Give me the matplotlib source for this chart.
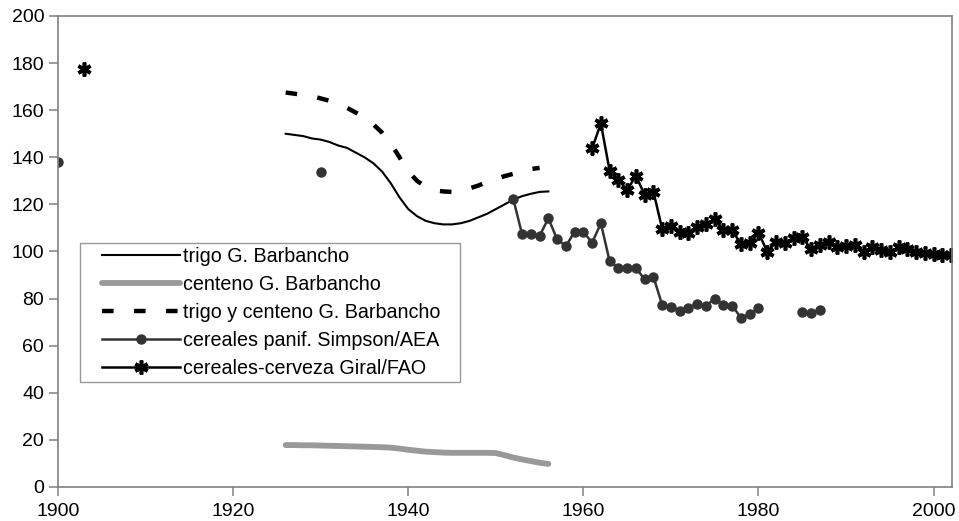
import numpy as np
import matplotlib
matplotlib.use("Agg")
import matplotlib.pyplot as plt
from matplotlib.legend_handler import HandlerLine2D

plt.rcParams['font.family'] = ['Liberation Sans', 'DejaVu Sans']

# trigo G. Barbancho
trigo_years = list(range(1926, 1957))
trigo_vals = [150, 149.5, 149, 148, 147.5, 146.5, 145, 144, 142, 140, 137.5, 134,
              129, 123, 118, 115, 113, 112, 111.5, 111.5, 112, 113, 114.5, 116,
              118, 120, 122, 123.5, 124.5, 125.3, 125.5]

# centeno G. Barbancho
centeno_years = list(range(1926, 1957))
centeno_vals = [17.8, 17.8, 17.7, 17.7, 17.6, 17.5, 17.4, 17.3, 17.2, 17.1, 17.0, 16.9,
                16.7, 16.3, 15.8, 15.4, 15.0, 14.8, 14.6, 14.5, 14.5, 14.5, 14.5, 14.5,
                14.4, 13.5, 12.5, 11.7, 11.0, 10.3, 9.8]

# trigo y centeno G. Barbancho
tyc_years = list(range(1926, 1956))
tyc_vals = [167.5, 167, 166.5, 166, 165, 164, 162.5, 161, 159, 157, 154, 150.5,
            146, 140, 134, 130, 127.5, 126, 125.5, 125.3, 125.8, 126.8, 128, 129.5,
            130.8, 132, 133, 134, 135, 135.5]

# cereales panif. Simpson/AEA
simpson_years = [1900, 1930] + list(range(1952, 1981)) + [1985, 1986, 1987]
simpson_vals = [137.9, 133.9,
                122.2, 107.3, 107.3, 106.6, 114.1, 105.2, 102.3, 108.4, 108.4, 103.7,
                112.0, 95.8, 92.9, 92.9, 92.9, 88.2, 89.3, 77.3, 76.3, 74.9, 76.2,
                77.7, 76.9, 80.0, 77.2, 76.9, 71.9, 73.3, 75.8,
                74.4, 73.8, 75.2]

# cereales-cerveza Giral/FAO
giral_years = [1903] + list(range(1961, 2003))
giral_vals = [177.4,
              143.8, 154.4, 134.2, 130.4, 126.1, 132.2, 124.0, 125.4, 109.6, 111.0,
              108.4, 107.7, 110.3, 111.7, 113.7, 109.1, 109.1, 103.0, 103.4, 108.0,
              99.9, 104.0, 103.6, 105.9, 106.3, 100.9, 102.8, 104.2, 101.8, 102.3,
              102.8, 99.9, 102.0, 100.6, 99.9, 101.8, 100.9, 99.9, 99.2, 98.9,
              98.6, 98.4]

labels = ['trigo G. Barbancho', 'centeno G. Barbancho',
          'trigo y centeno G. Barbancho', 'cereales panif. Simpson/AEA',
          'cereales-cerveza Giral/FAO']

def segments(years, vals):
    """Split into connected runs (consecutive years)."""
    runs, cur = [], [0]
    for i in range(1, len(years)):
        if years[i] - years[i - 1] == 1:
            cur.append(i)
        else:
            runs.append(cur)
            cur = [i]
    runs.append(cur)
    return [([years[i] for i in r], [vals[i] for i in r]) for r in runs]

fig = plt.figure(figsize=(9.59, 5.21), dpi=100)
ax = fig.add_axes([0.0605, 0.0653, 0.9322, 0.904])

l1, = ax.plot(trigo_years, trigo_vals, color='black', lw=1.5)
l2, = ax.plot(centeno_years, centeno_vals, color='#999999', lw=4.2, solid_capstyle='round')
l3, = ax.plot(tyc_years, tyc_vals, color='black', lw=3.2, dashes=(2.6, 4.6),
              dash_capstyle='butt')

scol = '#333333'
l4 = None
for xs, ys in segments(simpson_years, simpson_vals):
    h, = ax.plot(xs, ys, color=scol, lw=1.8, marker='o', markersize=6.5,
                 markerfacecolor=scol, markeredgecolor=scol)
    if l4 is None:
        l4 = h

l5 = None
for xs, ys in segments(giral_years, giral_vals):
    h, = ax.plot(xs, ys, color='black', lw=1.8, marker=(6, 2, 0), markersize=10,
                 markeredgewidth=2.6, markeredgecolor='black')
    if l5 is None:
        l5 = h

ax.set_xlim(1900, 2002.1)
ax.set_ylim(0, 200)
ax.set_xticks(range(1900, 2001, 20))
ax.set_yticks(range(0, 201, 20))
for s in ax.spines.values():
    s.set_color('#808080')
    s.set_linewidth(1.2)
ax.tick_params(direction='out', length=6.5, width=1.1, color='#808080',
               labelsize=14, labelcolor='black')
ax.tick_params(axis='y', pad=3.5)
ax.tick_params(axis='x', pad=5.0)

hm = {h: HandlerLine2D(xpad=0.92, numpoints=1) for h in [l1, l2, l3, l4, l5]}
leg_labels = list(labels)
leg_labels[2] = leg_labels[2] + '   '
leg = ax.legend(handles=[l1, l2, l3, l4, l5], labels=leg_labels, loc='upper left',
                bbox_to_anchor=(0.0246, 0.518), fontsize=14.2, frameon=True,
                fancybox=False, edgecolor='#808080', handlelength=4.85,
                handletextpad=0.15, labelspacing=0.46, borderpad=0.2,
                borderaxespad=0, handler_map=hm)
leg.get_frame().set_linewidth(1.0)

fig.savefig('out.png', dpi=100)
